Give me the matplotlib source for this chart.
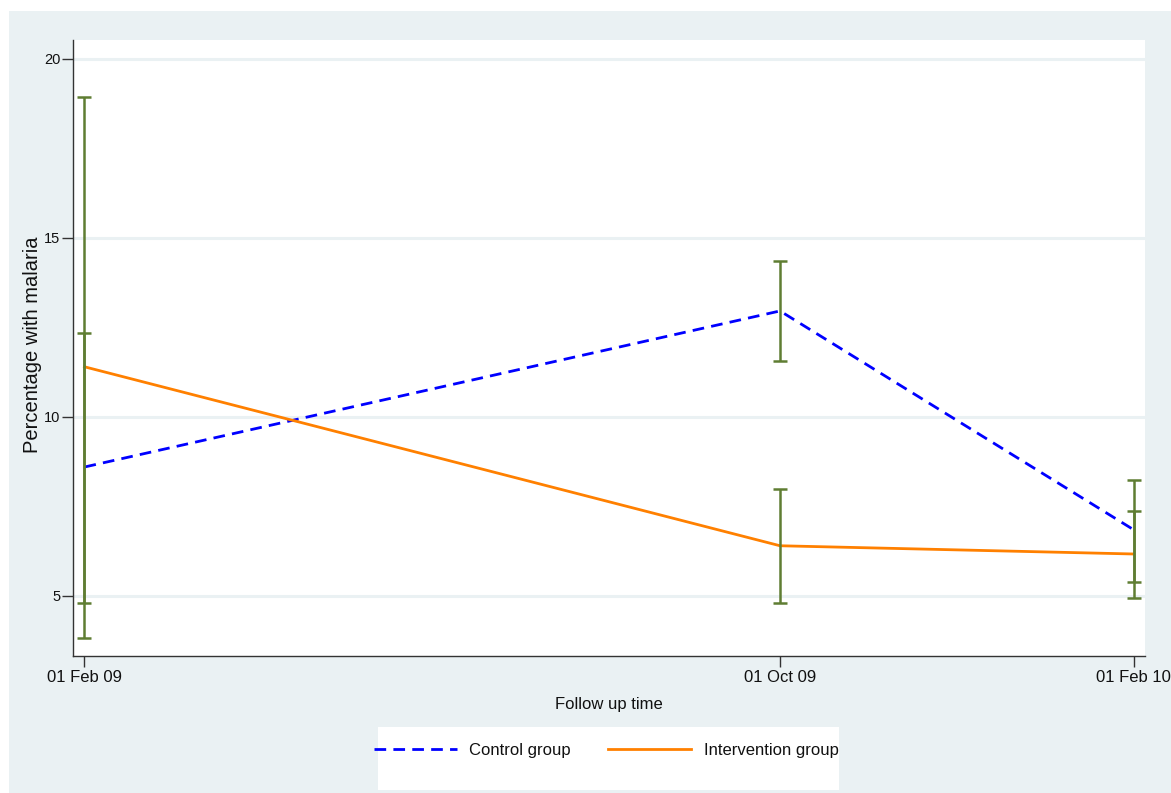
import datetime as dt
import matplotlib
matplotlib.use("Agg")
import matplotlib.pyplot as plt
from matplotlib.patches import Rectangle

plt.rcParams['font.family'] = ['Liberation Sans', 'DejaVu Sans']

# ---- data ----
dates = [dt.date(2009, 2, 1), dt.date(2009, 10, 1), dt.date(2010, 2, 1)]
tick_labels = ["01 Feb 09", "01 Oct 09", "01 Feb 10"]
control = [8.60, 12.96, 6.85]
control_lo = [3.83, 11.56, 5.39]
control_hi = [12.35, 14.36, 8.24]
intervention = [11.40, 6.40, 6.17]
intervention_lo = [4.80, 4.80, 4.94]
intervention_hi = [18.94, 7.99, 7.37]
yticks = [5, 10, 15, 20]

BG = '#EAF1F3'
GREEN = '#5F7D32'
TXT = '#111111'

W, H = 1171, 793
fig = plt.figure(figsize=(W / 100, H / 100), dpi=100, facecolor='white')
fig.patches.append(Rectangle((9 / W, 0), 1 - 9 / W, (H - 11) / H,
                             transform=fig.transFigure, facecolor=BG,
                             edgecolor='none', zorder=-10))
# legend background box
fig.patches.append(Rectangle((378 / W, (H - 790) / H), (839 - 378) / W, 63 / H,
                             transform=fig.transFigure, facecolor='white',
                             edgecolor='none', zorder=-5))

ax = fig.add_axes([73 / W, (H - 656) / H, 1072 / W, 616 / H])
ax.set_facecolor('white')

ax.plot(dates, control, color='#0000FF', lw=2.0, linestyle=(0, (4.2, 2.6)),
        label='Control group', zorder=3)
ax.plot(dates, intervention, color='#FF8000', lw=2.0, label='Intervention group',
        zorder=3)

for lo, hi in [(control_lo, control_hi), (intervention_lo, intervention_hi)]:
    ax.errorbar(dates, [(a + b) / 2 for a, b in zip(lo, hi)],
                yerr=[[(b - a) / 2 for a, b in zip(lo, hi)]] * 2,
                fmt='none', ecolor=GREEN, elinewidth=1.8, capsize=5,
                capthick=1.8, zorder=4)

ax.set_xlim(dates[0] - dt.timedelta(days=4.5), dates[-1] + dt.timedelta(days=4.5))
ax.set_ylim(3.32, 20.53)
ax.set_xticks(dates)
ax.set_xticklabels(tick_labels)
ax.set_yticks(yticks)
ax.set_yticklabels([str(v) for v in yticks])
ax.yaxis.grid(True, color=BG, lw=2.2)
ax.set_axisbelow(True)

for s in ['top', 'right']:
    ax.spines[s].set_visible(False)
for s in ['left', 'bottom']:
    ax.spines[s].set_color('#333333')
    ax.spines[s].set_linewidth(1.0)

ax.tick_params(axis='y', length=8, width=1.0, color='#333333', pad=1,
               labelsize=10.5, labelcolor=TXT)
ax.tick_params(axis='x', length=8, width=1.0, color='#333333', pad=2,
               labelsize=12, labelcolor=TXT)

ax.set_ylabel('Percentage with malaria', fontsize=14.5, color=TXT)
ax.yaxis.set_label_coords((42 - 73) / 1072, 0.505)
ax.set_xlabel('Follow up time', fontsize=12, color=TXT)
ax.xaxis.set_label_coords(0.5, (656 - 697) / 616)

leg = fig.legend(loc='center', bbox_to_anchor=(606 / W, 43 / H), ncol=2,
                 fontsize=12, frameon=False, handlelength=5.0,
                 handletextpad=0.75, columnspacing=2.2, borderpad=0)
for t in leg.get_texts():
    t.set_color(TXT)

fig.savefig('out.png', dpi=100, facecolor='white')
